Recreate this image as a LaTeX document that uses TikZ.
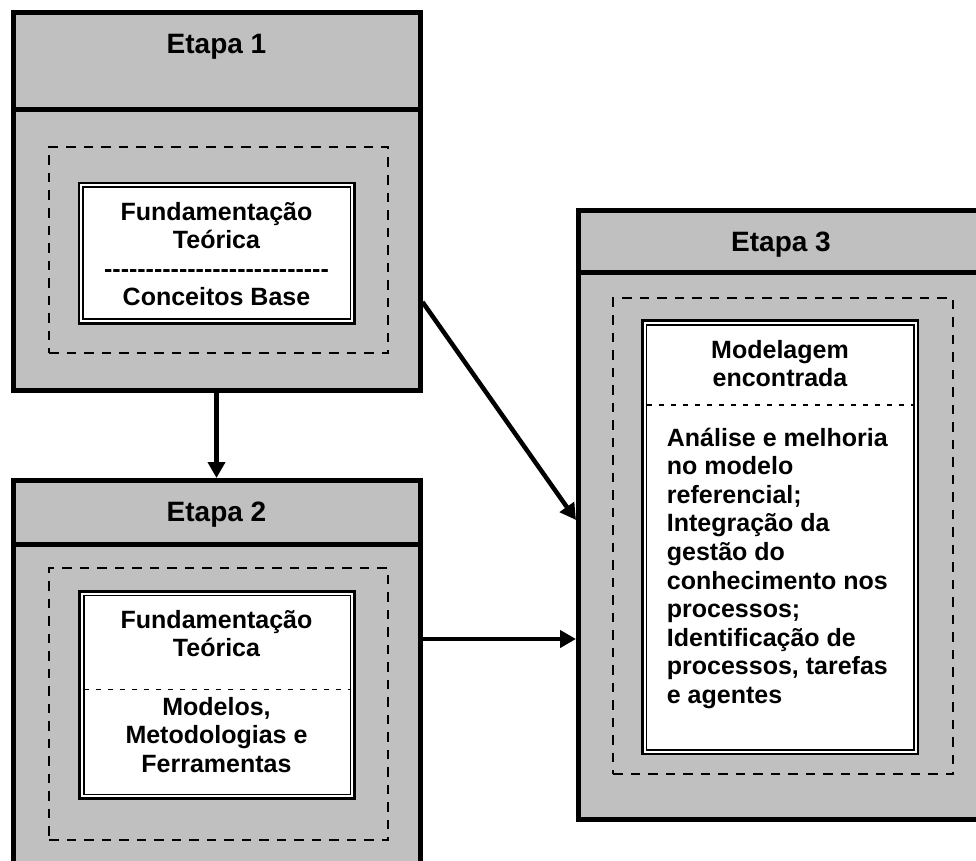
\documentclass[tikz,border=0pt]{standalone}
\usepackage{fontspec}
\setmainfont{Liberation Sans}
\usetikzlibrary{arrows.meta}
\definecolor{panelgray}{HTML}{C0C0C0}
% one hyphen in its own box, so that a row of them is not turned into dashes
\newcommand\onehy{\mbox{-}}
\begin{document}
\begin{tikzpicture}[x=1pt,y=-1pt,
  stage/.style={draw=black, fill=panelgray, line width=5pt, rectangle, inner sep=0pt},
  rule/.style={draw=black, line width=5pt},
  zone/.style={draw=black, dash pattern=on 9.5pt off 8pt, line width=2pt, rectangle, inner sep=0pt, outer sep=0pt},
  card/.style={draw=black, fill=white, line width=2.7pt, rectangle, inner sep=0pt, outer sep=0pt},
  cardinner/.style={draw=black, line width=1.6pt},
  split/.style={draw=black, dash pattern=on 5.5pt off 6.5pt, line width=1.3pt},
  heading/.style={font=\fontsize{28}{32}\selectfont\bfseries, anchor=base, inner sep=0pt},
  body/.style={font=\fontsize{25}{28.6}\selectfont\bfseries, anchor=base, inner sep=0pt, align=center},
  bodyleft/.style={font=\fontsize{25}{28.6}\selectfont\bfseries, anchor=base west, inner sep=0pt, align=left},
  flow/.style={line width=4.5pt, -{Triangle[length=16pt,width=17pt]}},
]
\useasboundingbox (0,0) rectangle (976,861);
\clip (0,0) rectangle (976,861);

% ---------- Etapa 1 ----------
\node[stage, minimum width=407pt, minimum height=377.5pt] (s1) at (216.5,201.25) {};
\draw[rule] (13,109.5) -- (420,109.5);
\node[heading] (t1) at (216.5,53.3) {Etapa 1};
\node[zone, minimum width=339pt, minimum height=206pt] (z1) at (218.8,250) {};
\node[card, minimum width=275.7pt, minimum height=140.3pt] (c1) at (216.85,253.15) {};
\draw[cardinner] ([shift={(4.2,4.2)}]c1.north west) rectangle ([shift={(-4.2,-4.2)}]c1.south east);
% multi-line texts are placed by the baseline of their last line
\node[body] (x1) at (216.5,305.8) {Fundamentação\\Teórica\\
\onehy\onehy\onehy\onehy\onehy\onehy\onehy\onehy\onehy\onehy\onehy\onehy\onehy\onehy\onehy\onehy\onehy\onehy\onehy\onehy\onehy\onehy\onehy\onehy\onehy\onehy\onehy\\
Conceitos Base};

% ---------- Etapa 2 ----------
\node[stage, minimum width=407pt, minimum height=437.5pt] (s2) at (216.5,699.25) {};
\draw[rule] (13,544.5) -- (420,544.5);
\node[heading] (t2) at (216.5,521.7) {Etapa 2};
\node[zone, minimum width=339pt, minimum height=271.7pt] (z2) at (218.8,704.15) {};
\node[card, minimum width=275.2pt, minimum height=207.4pt] (c2) at (217.1,695) {};
\draw[cardinner] ([shift={(4.2,4.2)}]c2.north west) rectangle ([shift={(-4.2,-4.2)}]c2.south east);
\draw[split] ([xshift=4.2pt]c2.west |- 0,689.3) -- ([xshift=-4.2pt]c2.east |- 0,689.3);
\node[body] (x2a) at (216.5,656.6) {Fundamentação\\Teórica};
\node[body] (x2b) at (216.5,772.2) {Modelos,\\Metodologias e\\Ferramentas};

% ---------- Etapa 3 ----------
\node[stage, minimum width=405.5pt, minimum height=609pt] (s3) at (781.25,515) {};
\draw[rule] (578.5,272) -- (984,272);
\node[heading] (t3) at (781,251.7) {Etapa 3};
\node[zone, minimum width=340pt, minimum height=475.7pt] (z3) at (783.3,536.15) {};
\node[card, minimum width=275.7pt, minimum height=433.3pt] (c3) at (780.15,537.35) {};
\draw[cardinner] ([shift={(4.2,4.2)}]c3.north west) rectangle ([shift={(-4.2,-4.2)}]c3.south east);
\draw[split] ([xshift=4.2pt]c3.west |- 0,405) -- ([xshift=-4.2pt]c3.east |- 0,405);
\node[body] (x3a) at (780,386.9) {Modelagem\\encontrada};
\node[bodyleft] (x3b) at (666.7,703.4) {Análise e melhoria\\no modelo\\referencial;\\Integração da\\gestão do\\conhecimento nos\\processos;\\Identificação de\\processos, tarefas\\e agentes};

% ---------- connectors ----------
\coordinate (hrow) at (0,639);
\coordinate (dstart) at (0,302);
\coordinate (dend) at (0,520);
\draw[flow] (s1.south) -- (s2.north);
\draw[flow] (s2.east |- hrow) -- (s3.west |- hrow);
\draw[flow] (s1.east |- dstart) -- (s3.west |- dend);
\end{tikzpicture}
\end{document}
